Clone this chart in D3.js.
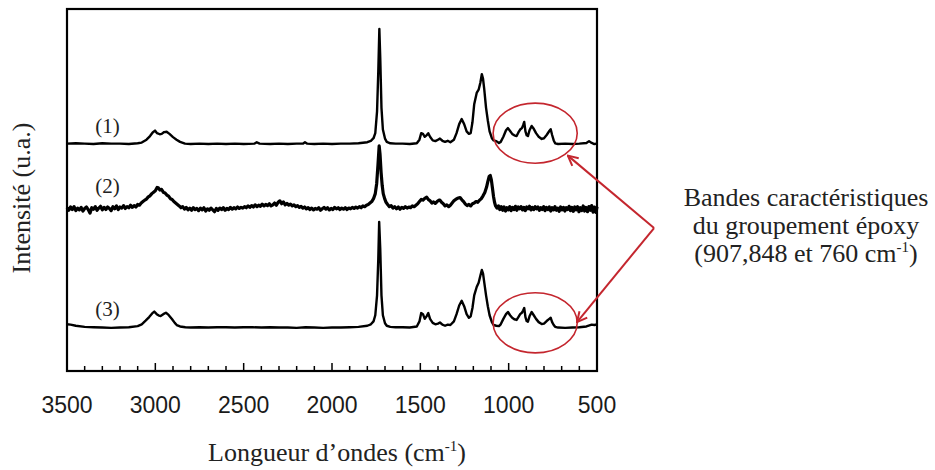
<!DOCTYPE html>
<html><head><meta charset="utf-8">
<script src="https://cdn.jsdelivr.net/npm/d3@7"></script>
<style>
html,body{margin:0;padding:0;background:#fff;}
svg{display:block;}
</style></head>
<body>
<svg id="chart" width="935" height="470"></svg>
<script>
// ---------- DATA ----------
const xTicksMajor = [3500, 3000, 2500, 2000, 1500, 1000, 500];
const traceNames = ["(1)", "(2)", "(3)"];
const traceOffsets = [62.7, 44.8, 11.9];
const labelLift = [3.0, 4.4, 3.3];
const labelWavenumber = 3340;

const spectrum1 = [[3500,0.1],[3450,0.2],[3400,0.1],[3350,0.0],[3300,0.2],[3250,0.1],[3200,0.1],[3150,0.0],[3100,0.2],[3077,0.4],[3050,1.2],[3030,2.2],[3015,3.2],[3002,3.7],[2990,3.0],[2975,2.7],[2964,2.8],[2950,3.3],[2936,3.4],[2920,2.8],[2900,1.9],[2880,1.2],[2860,0.6],[2832,0.1],[2800,0],[2750,0.1],[2700,0],[2650,0.1],[2600,0],[2550,0.1],[2500,0],[2440,0.1],[2426,0.5],[2410,0.1],[2350,0],[2300,0.1],[2250,0],[2200,0.1],[2165,0.1],[2153,0.5],[2140,0.1],[2100,0],[2050,0.1],[2000,0],[1950,0.1],[1900,0.1],[1850,0.2],[1800,0.5],[1780,0.9],[1765,1.6],[1755,3],[1745,9],[1738,20],[1732,31.8],[1727,24],[1720,10],[1712,4],[1700,1.5],[1690,0.6],[1670,0.2],[1640,0.1],[1600,0.1],[1560,0],[1520,0.2],[1505,1.2],[1495,3.0],[1485,2.8],[1475,2.0],[1465,2.4],[1455,3.0],[1445,2.0],[1430,1.0],[1415,0.8],[1400,1.2],[1389,1.5],[1375,0.9],[1360,0.6],[1345,0.9],[1330,0.5],[1310,1.2],[1295,3.0],[1280,5.5],[1266,6.9],[1252,5.5],[1238,3.5],[1225,2.8],[1215,3.0],[1205,6],[1195,11],[1181,14.1],[1170,15],[1160,17],[1152,19.3],[1145,18],[1138,15],[1128,10],[1118,6.5],[1108,3.5],[1095,1.6],[1085,1.0],[1070,0.8],[1055,0.3],[1045,0.6],[1030,2.0],[1015,3.8],[1004,4.4],[992,3.6],[980,2.8],[968,2.4],[955,2.2],[945,3.2],[935,4.0],[925,4.4],[918,5.2],[912,6.1],[905,3.5],[898,2.4],[891,2.2],[882,3.8],[870,5.0],[858,4.2],[845,3.0],[830,2.0],[813,1.4],[800,1.6],[785,2.5],[770,3.6],[762,4.1],[754,2.5],[745,1.0],[737,0.2],[720,0],[680,0.1],[640,0],[600,0.1],[560,0.3],[545,0.8],[530,0.3],[515,0],[500,0.1]];

const spectrum2 = [[3500,0.3],[3490,-0.4],[3480,0.5],[3470,-0.2],[3460,0.6],[3450,-0.5],[3440,0.2],[3430,-0.3],[3420,0.4],[3410,-0.6],[3400,0.1],[3390,0.5],[3380,-0.2],[3370,-1.2],[3360,0.3],[3350,-0.1],[3340,0.6],[3330,-0.4],[3320,0.2],[3310,0.7],[3300,-0.3],[3290,0.4],[3280,-0.2],[3270,0.5],[3260,0.1],[3250,-0.5],[3240,0.6],[3230,0.0],[3220,0.8],[3210,-0.2],[3200,0.5],[3190,0.2],[3180,0.9],[3170,0.1],[3160,0.6],[3150,0.3],[3140,1.0],[3130,0.4],[3120,0.9],[3110,0.5],[3100,1.2],[3090,1.0],[3080,1.6],[3070,2.0],[3060,2.4],[3050,2.7],[3040,3.3],[3030,3.6],[3020,4.2],[3010,4.6],[3000,5.0],[2990,5.9],[2983,5.8],[2975,5.2],[2965,5.4],[2955,4.6],[2945,4.4],[2935,3.8],[2925,3.5],[2915,2.8],[2905,2.6],[2895,2.0],[2885,1.6],[2875,1.2],[2865,0.8],[2855,0.3],[2845,0.6],[2835,-0.1],[2825,0.4],[2815,-0.3],[2805,0.2],[2795,-0.4],[2785,0.3],[2775,-0.2],[2765,0.1],[2755,-0.5],[2745,0.2],[2735,-0.3],[2725,0.3],[2715,-0.6],[2705,0.0],[2695,-0.4],[2685,0.2],[2675,-0.3],[2665,-0.8],[2655,0.1],[2645,-0.4],[2635,0.2],[2625,-0.2],[2615,0.3],[2605,-0.4],[2595,0.1],[2585,-0.2],[2575,0.4],[2565,-0.1],[2555,0.3],[2545,0.0],[2535,0.5],[2525,0.1],[2515,0.4],[2505,0.2],[2495,0.6],[2485,0.3],[2475,0.8],[2465,0.4],[2455,0.9],[2445,0.5],[2435,1.1],[2425,0.6],[2415,1.0],[2405,0.7],[2395,1.3],[2385,0.8],[2375,1.2],[2365,0.9],[2355,1.4],[2345,0.8],[2335,1.1],[2325,1.6],[2315,1.0],[2305,1.8],[2295,2.2],[2285,1.4],[2275,1.9],[2265,1.1],[2255,1.5],[2245,1.0],[2235,1.3],[2225,0.8],[2215,1.1],[2205,0.6],[2195,0.9],[2185,0.4],[2175,0.7],[2165,0.2],[2155,0.5],[2145,0.0],[2135,0.3],[2125,-0.2],[2115,0.2],[2105,-0.3],[2095,0.1],[2085,-0.1],[2075,0.3],[2065,-0.4],[2055,0.0],[2045,0.4],[2035,-0.1],[2025,0.3],[2015,-0.3],[2005,0.1],[1995,-0.2],[1985,0.4],[1975,0.0],[1965,0.3],[1955,-0.2],[1945,0.2],[1935,-0.1],[1925,0.3],[1915,-0.2],[1905,0.2],[1895,0.0],[1885,0.4],[1875,0.1],[1865,0.5],[1855,0.2],[1845,0.6],[1835,0.3],[1825,0.8],[1815,0.6],[1805,1.0],[1795,1.2],[1785,1.6],[1775,2.0],[1765,2.8],[1755,4.2],[1747,7],[1740,12],[1733,17.4],[1728,15],[1722,10],[1716,6.5],[1710,4.2],[1702,2.8],[1694,1.8],[1685,1.2],[1675,0.6],[1665,0.9],[1655,0.2],[1645,0.6],[1635,0.0],[1625,0.5],[1615,-0.1],[1605,0.4],[1595,0.1],[1585,0.6],[1575,0.2],[1565,0.5],[1555,0.3],[1545,0.8],[1535,0.6],[1525,1.0],[1515,1.4],[1505,2.0],[1495,2.6],[1485,2.4],[1475,2.9],[1464,3.2],[1455,2.6],[1445,2.2],[1435,1.6],[1425,1.9],[1415,1.5],[1405,2.0],[1395,2.4],[1389,2.4],[1380,1.8],[1370,1.4],[1360,0.8],[1350,1.1],[1340,0.6],[1330,1.0],[1320,1.6],[1310,2.2],[1300,2.6],[1290,2.9],[1275,3.1],[1265,2.5],[1255,2.0],[1245,1.3],[1235,0.9],[1225,1.2],[1215,0.8],[1205,1.4],[1195,1.6],[1185,2.0],[1175,1.8],[1165,2.4],[1155,2.8],[1145,3.6],[1135,4.5],[1125,6.0],[1118,7.5],[1110,9.0],[1104,9.2],[1098,8.0],[1092,5.8],[1086,3.5],[1080,1.8],[1074,0.8],[1066,0.2],[1058,0.8],[1050,-0.2],[1042,0.6],[1034,-0.4],[1026,0.5],[1018,-0.6],[1010,0.3],[1002,-0.3],[994,0.6],[986,-0.5],[978,0.4],[970,-0.2],[962,0.7],[954,-0.4],[946,0.5],[938,0.0],[930,0.6],[922,-0.3],[914,0.4],[906,-0.5],[898,0.5],[890,0.0],[882,0.7],[874,-0.3],[866,0.4],[858,-0.2],[850,0.6],[842,0.0],[834,0.5],[826,-0.4],[818,0.3],[810,-0.2],[802,0.6],[794,-0.5],[786,0.4],[778,-0.2],[770,0.5],[762,-0.6],[754,0.3],[746,-0.3],[738,0.6],[730,-0.4],[722,0.2],[714,-0.7],[706,0.5],[698,-0.3],[690,0.4],[682,-0.6],[674,0.3],[666,-0.2],[658,0.7],[650,-0.5],[642,0.4],[634,-0.7],[626,0.5],[618,-0.3],[610,0.6],[602,-0.8],[594,0.3],[586,-0.5],[578,0.8],[570,-0.6],[562,0.4],[554,-0.8],[546,0.6],[538,-0.4],[530,0.9],[522,-0.9],[514,0.5],[506,-1.0],[500,0.6]];

const spectrum3 = [[3500,1.0],[3480,0.9],[3450,0.6],[3400,0.3],[3350,0.2],[3300,0.1],[3250,0.0],[3200,0.1],[3150,0.2],[3100,0.5],[3077,1.0],[3055,2.0],[3035,3.0],[3018,4.0],[3006,4.5],[2992,3.8],[2980,3.4],[2970,3.3],[2955,3.8],[2940,4.2],[2925,3.6],[2905,2.4],[2890,1.4],[2879,0.8],[2860,0.4],[2830,0.2],[2800,0.1],[2750,0.2],[2700,0.1],[2650,0.2],[2600,0.2],[2550,0.1],[2500,0.2],[2450,0.2],[2400,0.1],[2350,0.2],[2300,0.1],[2250,0.1],[2200,0.0],[2150,0.2],[2100,0.1],[2050,0.0],[2000,0.1],[1950,0.1],[1900,0.2],[1850,0.3],[1800,0.6],[1780,1.0],[1765,1.8],[1755,3.5],[1745,9],[1738,19],[1733,29.3],[1727,22],[1720,9],[1712,3.5],[1700,1.3],[1690,0.6],[1670,0.3],[1640,0.2],[1600,0.2],[1560,0.1],[1520,0.4],[1505,1.8],[1495,4.1],[1485,3.8],[1475,2.5],[1465,3.2],[1455,4.1],[1445,2.5],[1430,1.4],[1415,1.0],[1400,1.2],[1389,1.5],[1375,0.9],[1360,0.6],[1345,0.9],[1330,0.8],[1310,1.8],[1295,3.8],[1280,6.2],[1266,7.5],[1252,6.0],[1238,3.8],[1225,2.8],[1215,3.2],[1205,5.5],[1195,9.0],[1181,11.3],[1170,12.5],[1160,14.5],[1152,16.0],[1145,15.0],[1138,12.5],[1128,9.0],[1118,6.0],[1108,3.5],[1095,1.6],[1085,0.8],[1070,0.6],[1055,0.5],[1045,1.0],[1030,2.5],[1015,3.8],[1004,4.4],[992,3.5],[980,2.8],[968,2.4],[955,2.2],[945,3.0],[935,3.8],[925,4.2],[918,4.8],[912,5.5],[905,3.0],[898,1.9],[891,1.7],[882,3.2],[870,4.4],[858,3.5],[845,2.5],[830,1.6],[813,1.1],[800,1.2],[785,1.9],[770,2.5],[762,2.8],[754,1.6],[745,0.8],[737,0.3],[720,0.1],[680,0.0],[640,0.1],[600,0.2],[560,0.4],[530,0.9],[515,0.8],[500,1.0]];

const spectra = [spectrum1, spectrum2, spectrum3];

// annotation: ellipses around epoxy bands (wavenumber, intensity units)
const ellipseCenterW = [850, 850];
const ellipseCenterI = [65.7, 13.3];
const ellipseHalfW = 238;
const ellipseHalfI = 8.3;
const arrowVertex = [177, 39.5];
const arrowTips = [[665, 59.5], [613, 13.5]];
const annotationLines = ["Bandes caractéristiques", "du groupement époxy", "(907,848 et 760 cm"];

// ---------- LAYOUT ----------
const margin = {left: 67, right: 338, top: 9, bottom: 99};
const W = 935, H = 470;
const svg = d3.select("#chart");

const x = d3.scaleLinear().domain([3500, 500]).range([margin.left, W - margin.right]);
const y = d3.scaleLinear().domain([0, 100]).range([H - margin.bottom, margin.top]);

const serif = "'Liberation Serif', 'Times New Roman', serif";
const sans = "'Liberation Sans', Arial, sans-serif";

// spectra
const line = d3.line().x(d => x(d[0])).y(d => y(d[1]));
spectra.forEach((s, i) => {
  const pts = s.map(d => [d[0], d[1] + traceOffsets[i]]);
  svg.append("path")
    .attr("d", line(pts))
    .attr("fill", "none")
    .attr("stroke", "#000")
    .attr("stroke-width", i === 1 ? 3.2 : 2.4)
    .attr("stroke-linejoin", "round");
});

// trace labels
traceNames.forEach((t, i) => {
  svg.append("text")
    .attr("x", x(labelWavenumber))
    .attr("y", y(traceOffsets[i] + labelLift[i]))
    .attr("font-family", serif)
    .attr("font-size", 21)
    .attr("fill", "#222")
    .text(t);
});

// axis ticks (inward, bottom only)
const minorTicks = d3.range(3500, 499, -100);
const gAxis = svg.append("g");
gAxis.selectAll("line.tick").data(minorTicks).join("line")
  .attr("x1", d => x(d)).attr("x2", d => x(d))
  .attr("y1", y(0)).attr("y2", d => y(0) - (d % 500 === 0 ? 8 : 5))
  .attr("stroke", "#000").attr("stroke-width", 1.5);

gAxis.selectAll("text").data(xTicksMajor).join("text")
  .attr("x", d => x(d))
  .attr("y", 413)
  .attr("text-anchor", "middle")
  .attr("font-family", sans)
  .attr("font-size", 23)
  .attr("fill", "#1a1a1a")
  .text(d => d);

// frame
svg.append("rect")
  .attr("x", x(3500)).attr("y", y(100))
  .attr("width", x(500) - x(3500)).attr("height", y(0) - y(100))
  .attr("fill", "none").attr("stroke", "#000").attr("stroke-width", 2.2);

// axis titles
const xt = svg.append("text")
  .attr("x", (x(3500) + x(500)) / 2 + 5)
  .attr("y", 461)
  .attr("text-anchor", "middle")
  .attr("font-family", serif)
  .attr("font-size", 26)
  .attr("fill", "#222");
xt.append("tspan").text("Longueur d\u2019ondes (cm");
xt.append("tspan").attr("font-size", 15).attr("dy", -10).text("-1");
xt.append("tspan").attr("dy", 10).text(")");

svg.append("text")
  .attr("transform", "translate(30,198) rotate(-90)")
  .attr("text-anchor", "middle")
  .attr("font-family", serif)
  .attr("font-size", 26)
  .attr("fill", "#222")
  .text("Intensité (u.a.)");

// ellipses
const red = "#c4262e";
ellipseCenterW.forEach((w, i) => {
  svg.append("ellipse")
    .attr("cx", x(w)).attr("cy", y(ellipseCenterI[i]))
    .attr("rx", Math.abs(x(w + ellipseHalfW) - x(w)))
    .attr("ry", Math.abs(y(ellipseHalfI) - y(0)))
    .attr("fill", "none").attr("stroke", red).attr("stroke-width", 1.6);
});

// arrows
svg.append("defs").append("marker")
  .attr("id", "arr").attr("viewBox", "0 0 12 12")
  .attr("refX", 11).attr("refY", 6)
  .attr("markerWidth", 12).attr("markerHeight", 12)
  .attr("markerUnits", "userSpaceOnUse")
  .attr("orient", "auto")
  .append("path").attr("d", "M1,1 L11,6 L1,11")
  .attr("fill", "none").attr("stroke", red).attr("stroke-width", 2);

arrowTips.forEach(t => {
  svg.append("line")
    .attr("x1", x(arrowVertex[0])).attr("y1", y(arrowVertex[1]))
    .attr("x2", x(t[0])).attr("y2", y(t[1]))
    .attr("stroke", red).attr("stroke-width", 2)
    .attr("marker-end", "url(#arr)");
});

// annotation text
const annX = 806, annY0 = 206, annDY = 28;
annotationLines.forEach((t, i) => {
  const tx = svg.append("text")
    .attr("x", annX).attr("y", annY0 + i * annDY)
    .attr("text-anchor", "middle")
    .attr("font-family", serif)
    .attr("font-size", 26)
    .attr("fill", "#222");
  tx.append("tspan").text(t);
  if (i === 2) {
    tx.append("tspan").attr("font-size", 15).attr("dy", -10).text("-1");
    tx.append("tspan").attr("dy", 10).text(")");
  }
});
</script>
</body></html>
